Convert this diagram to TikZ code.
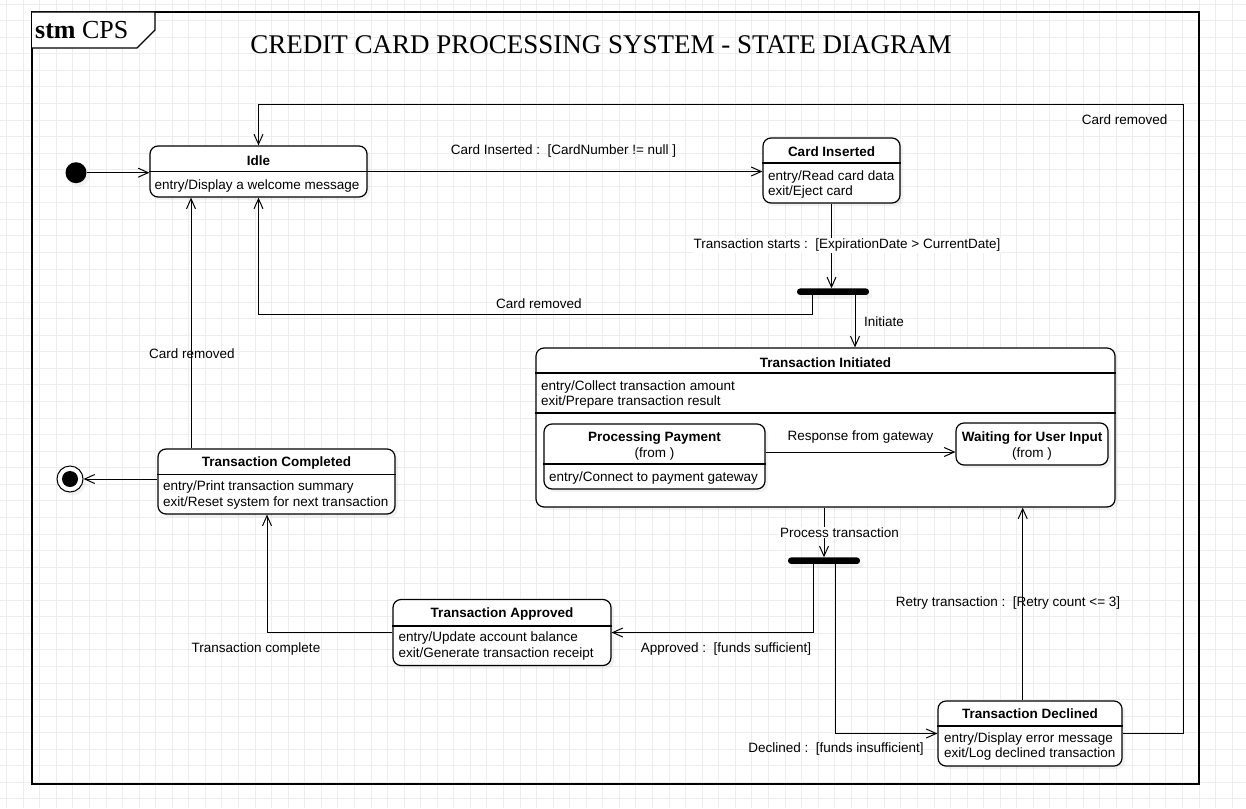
\documentclass[tikz,border=0pt]{standalone}
\usepackage{fontspec}
\setmainfont{Liberation Sans}
\newfontfamily\serifface{Liberation Serif}
\usetikzlibrary{arrows.meta,shadows,calc}

\begin{document}
\begin{tikzpicture}[x=1pt,y=-1pt,
	font=\fontsize{13.5}{15.5}\selectfont,
	gridline/.style={draw=black!7,line width=0.8pt},
	state/.style={draw,line width=1.2pt,fill=white,rounded corners=8pt,inner sep=0pt,
		drop shadow={shadow xshift=3pt,shadow yshift=-3pt,opacity=.1}},
	bar/.style={fill=black,rounded corners=3pt,inner sep=0pt,minimum width=72pt,minimum height=6.5pt,
		drop shadow={shadow xshift=3pt,shadow yshift=-4pt,opacity=.1}},
	sep/.style={line width=1.2pt},
	edge/.style={line width=1pt,-{Straight Barb[length=10pt,width=9pt]}},
	lbl/.style={inner sep=1pt,yshift=-1pt},
	ttl/.style={font=\fontsize{13.5}{15.5}\selectfont\bfseries,inner sep=0pt,yshift=-1pt},
	body/.style={anchor=west,align=left,inner sep=0pt,yshift=-1.2pt}]
	%% page and background grid, the grid is only a light help pattern behind everything
	\useasboundingbox (0,0) rectangle (1246,808);
	\fill[white] (0,0) rectangle (1246,808);
	\foreach \gx in {0,...,75} \draw[gridline] (6.6+16.56*\gx,0) -- (6.6+16.56*\gx,808);
	\foreach \gy in {0,...,49} \draw[gridline] (0,4+16.56*\gy) -- (1246,4+16.56*\gy);
	%% diagram frame with its name tab in the top left corner
	\draw[line width=1.2pt] (32,12) rectangle (1199,784);
	\draw[line width=1.2pt,fill=white] (32,12) -- (155,12) -- (155,30) -- (137,48) -- (32,48);
	\node[anchor=west,inner sep=0pt] (frameTag) at (35,30) {\serifface\fontsize{26}{30}\selectfont\textbf{stm} CPS};
	\node (heading) at (601,45) {\serifface\fontsize{27}{32}\selectfont CREDIT CARD PROCESSING SYSTEM - STATE DIAGRAM};
	
	%% pseudo states
	\node[circle,fill=black,minimum size=21pt,inner sep=0pt,
		drop shadow={shadow xshift=3pt,shadow yshift=-3pt,opacity=.1}] (start) at (76,172.7) {};
	\node[circle,draw,line width=1pt,fill=white,minimum size=26pt,inner sep=0pt,
		drop shadow={shadow xshift=3pt,shadow yshift=-3pt,opacity=.1}] (stop) at (70,479) {};
	\node[circle,fill=black,minimum size=16pt,inner sep=0pt] (stopDot) at (stop) {};
	\node[bar] (forkA) at (833,291.7) {};
	\node[bar] (forkB) at (824,560.7) {};
	
	%% states, each one is a rounded box with a title compartment
	\node[state,minimum width=217pt,minimum height=51pt] (idle) at (258.5,171.5) {};
	\draw[sep] (idle.west |- 0,171.5) -- (idle.east |- 0,171.5);
	\node[ttl] (idleTitle) at (258.5,159.3) {Idle};
	\node[body] (idleBody) at (154.5,184.5) {entry/Display a welcome message};
	
	\node[state,minimum width=137pt,minimum height=65pt] (cardIn) at (831.5,170.5) {};
	\draw[sep] (cardIn.west |- 0,163) -- (cardIn.east |- 0,163);
	\node[ttl] (cardInTitle) at (831.5,151) {Card Inserted};
	\node[body] (cardInBody) at (768,183.5) {entry/Read card data\\exit/Eject card};
	
	\node[state,minimum width=579pt,minimum height=159pt] (txInit) at (825.5,427.5) {};
	\draw[sep] (txInit.west |- 0,373) -- (txInit.east |- 0,373);
	\draw[sep] (txInit.west |- 0,413) -- (txInit.east |- 0,413);
	\node[ttl] (txInitTitle) at (825.5,361.5) {Transaction Initiated};
	\node[body] (txInitBody) at (541,393.5) {entry/Collect transaction amount\\exit/Prepare transaction result};
	
	\node[state,minimum width=221pt,minimum height=65pt] (procPay) at (654.5,456.5) {};
	\draw[sep] (procPay.west |- 0,464) -- (procPay.east |- 0,464);
	\node[ttl] (procPayTitle) at (654.5,436.7) {Processing Payment};
	\node[inner sep=0pt,yshift=-1pt] (procPayFrom) at (654.5,453) {(from )};
	\node[body] (procPayBody) at (549,476.7) {entry/Connect to payment gateway};
	
	\node[state,minimum width=152pt,minimum height=42pt] (waitInput) at (1032,444) {};
	\node[ttl] (waitInputTitle) at (1032,436.7) {Waiting for User Input};
	\node[inner sep=0pt,yshift=-1pt] (waitInputFrom) at (1032,453) {(from )};
	
	\node[state,minimum width=237pt,minimum height=65pt] (txDone) at (276.5,481.5) {};
	\draw[sep] (txDone.west |- 0,474.3) -- (txDone.east |- 0,474.3);
	\node[ttl] (txDoneTitle) at (276.5,461.7) {Transaction Completed};
	\node[body] (txDoneBody) at (163,494) {entry/Print transaction summary\\exit/Reset system for next transaction};
	
	\node[state,minimum width=218pt,minimum height=66pt] (txOk) at (502,632.5) {};
	\draw[sep] (txOk.west |- 0,626) -- (txOk.east |- 0,626);
	\node[ttl] (txOkTitle) at (502,613) {Transaction Approved};
	\node[body] (txOkBody) at (398.3,645) {entry/Update account balance\\exit/Generate transaction receipt};
	
	\node[state,minimum width=184pt,minimum height=65pt] (txNo) at (1030,733.5) {};
	\draw[sep] (txNo.west |- 0,726) -- (txNo.east |- 0,726);
	\node[ttl] (txNoTitle) at (1030,713) {Transaction Declined};
	\node[body] (txNoBody) at (944,745.5) {entry/Display error message\\exit/Log declined transaction};
	
	%% transitions
	\draw[edge] (start) -- (idle.west |- start);
	\draw[edge] (idle.east) -- (idle.east -| cardIn.west);
	\draw[edge] (cardIn.south) -- (cardIn.south |- forkA.north);
	\draw[edge] (forkA.south -| 812.7,0) |- (idle.south |- 0,314) -- (idle.south);
	\draw[edge] (forkA.south -| 855,0) -- (txInit.north -| 855,0);
	\draw[edge] (procPay.east |- 0,452) -- (waitInput.west |- 0,452);
	\draw[edge] (txInit.south -| forkB.north) -- (forkB.north);
	\draw[edge] (forkB.south -| 813.7,0) |- (txOk.east);
	\draw[edge] (forkB.south -| 835.7,0) |- (txNo.west);
	\draw[edge] (txNo.north -| 1022.7,0) -- (txInit.south -| 1022.7,0);
	\draw[edge] (txNo.east) -- (1183,733.5) |- (idle.north |- 0,104) -- (idle.north);
	\draw[edge] (txOk.west) -| (txDone.south -| 267,0);
	\draw[edge] (txDone.north -| 191,0) -- (idle.south -| 191,0);
	\draw[edge] (txDone.west |- stop) -- (stop);
	
	%% transition labels
	\node[lbl] (lblCardIn) at (563.5,150) {Card Inserted :\ \ [CardNumber != null ]};
	\node[lbl,fill=white] (lblStart) at (847,244.5) {Transaction starts :\ \ [ExpirationDate > CurrentDate]};
	\node[lbl] (lblRemovedA) at (539,303) {Card removed};
	\node[lbl,anchor=west] (lblInitiate) at (863,320.5) {Initiate};
	\node[lbl] (lblResponse) at (860.5,436) {Response from gateway};
	\node[lbl,fill=white] (lblProcess) at (839.5,531.5) {Process transaction};
	\node[lbl] (lblApproved) at (726,647.5) {Approved :\ \ [funds sufficient]};
	\node[lbl] (lblDeclined) at (836,747.5) {Declined :\ \ [funds insufficient]};
	\node[lbl] (lblRetry) at (1008,602.5) {Retry transaction :\ \ [Retry count <= 3]};
	\node[lbl] (lblRemovedB) at (1124.7,118.5) {Card removed};
	\node[lbl] (lblRemovedC) at (192,353) {Card removed};
	\node[lbl] (lblComplete) at (256,648) {Transaction complete};
\end{tikzpicture}
\end{document}
